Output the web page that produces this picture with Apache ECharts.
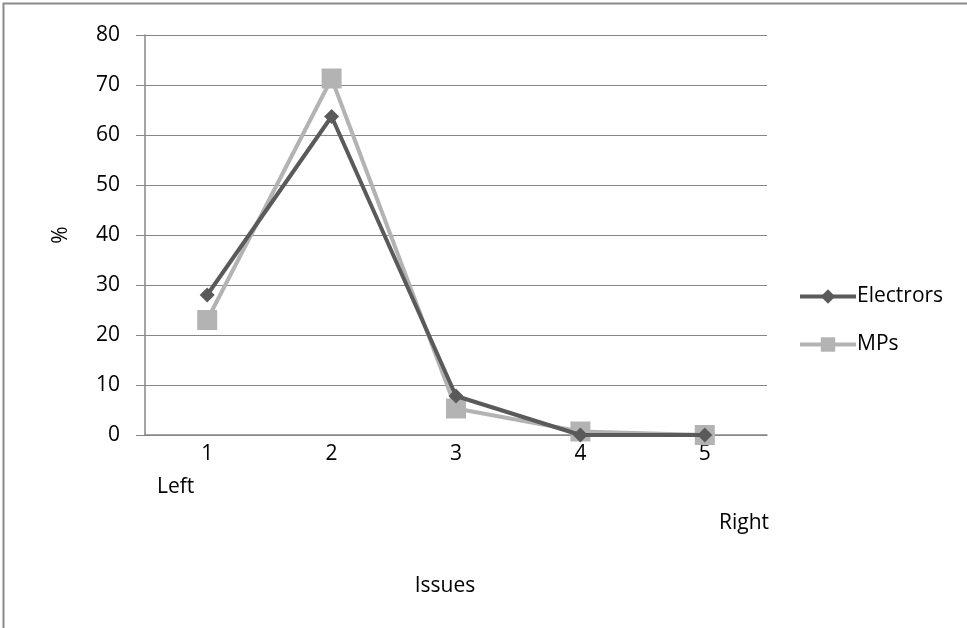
<!DOCTYPE html>
<html><head><meta charset="utf-8">
<script src="https://cdn.jsdelivr.net/npm/echarts@6/dist/echarts.min.js"></script>
<style>html,body{margin:0;padding:0;background:#fff}#c{width:967px;height:628px}</style>
</head><body><div id="c"></div>
<script>
const categories = ['1','2','3','4','5'];
const electrors = [28, 63.7, 7.8, 0, 0];
const mps = [23, 71.3, 5.3, 0.7, 0];
const yTicks = {min: 0, max: 80, interval: 10};
const FONT = 'Open Sans';
const FS = 21;
const chart = echarts.init(document.getElementById('c'));
chart.setOption({
  animation: false,
  backgroundColor: '#fff',
  grid: {left: 145, right: 200, top: 35, bottom: 193, containLabel: false},
  graphic: [
    {type: 'rect', shape: {x: 3.5, y: 3.5, width: 1000, height: 700}, style: {fill: 'none', stroke: '#8a8a8a', lineWidth: 2}},
    {type: 'text', left: 157, top: 477, style: {text: 'Left', font: FS + 'px "Open Sans"', fill: '#000'}},
    {type: 'text', left: 719, top: 513, style: {text: 'Right', font: FS + 'px "Open Sans"', fill: '#000'}}
  ],
  legend: {
    orient: 'vertical', left: 793, top: 281, itemGap: 27, itemWidth: 56, itemHeight: 18,
    textStyle: {fontFamily: FONT, fontSize: FS, color: '#000', padding: [0,0,0,-4]},
    lineStyle: {width: 4},
    data: ['Electrors', 'MPs']
  },
  xAxis: {
    type: 'category', data: categories, boundaryGap: true,
    name: 'Issues', nameLocation: 'middle', nameGap: 141,
    nameTextStyle: {fontFamily: FONT, fontSize: FS, color: '#000', padding: [0, 22, 0, 0]},
    axisLine: {lineStyle: {color: '#868686', width: 1.5}},
    axisTick: {show: false},
    axisLabel: {fontFamily: FONT, fontSize: FS, color: '#000', margin: 9}
  },
  yAxis: {
    type: 'value', min: yTicks.min, max: yTicks.max, interval: yTicks.interval,
    name: '%', nameLocation: 'middle', nameGap: 73, nameRotate: 90,
    nameTextStyle: {fontFamily: FONT, fontSize: FS, color: '#000'},
    axisLine: {show: true, lineStyle: {color: '#868686', width: 1.5}},
    axisTick: {show: true, inside: false, length: 9, lineStyle: {color: '#868686'}},
    splitLine: {lineStyle: {color: '#868686', width: 1.2}},
    axisLabel: {fontFamily: FONT, fontSize: FS, color: '#000', margin: 25}
  },
  series: [
    {name: 'Electrors', type: 'line', data: electrors, symbol: 'diamond', symbolSize: 15,
     lineStyle: {color: '#5a5a5a', width: 4}, itemStyle: {color: '#5a5a5a'}, z: 3},
    {name: 'MPs', type: 'line', data: mps, symbol: 'rect', symbolSize: 20,
     lineStyle: {color: '#b3b3b3', width: 4}, itemStyle: {color: '#b3b3b3'}, z: 2}
  ]
});
</script></body></html>
